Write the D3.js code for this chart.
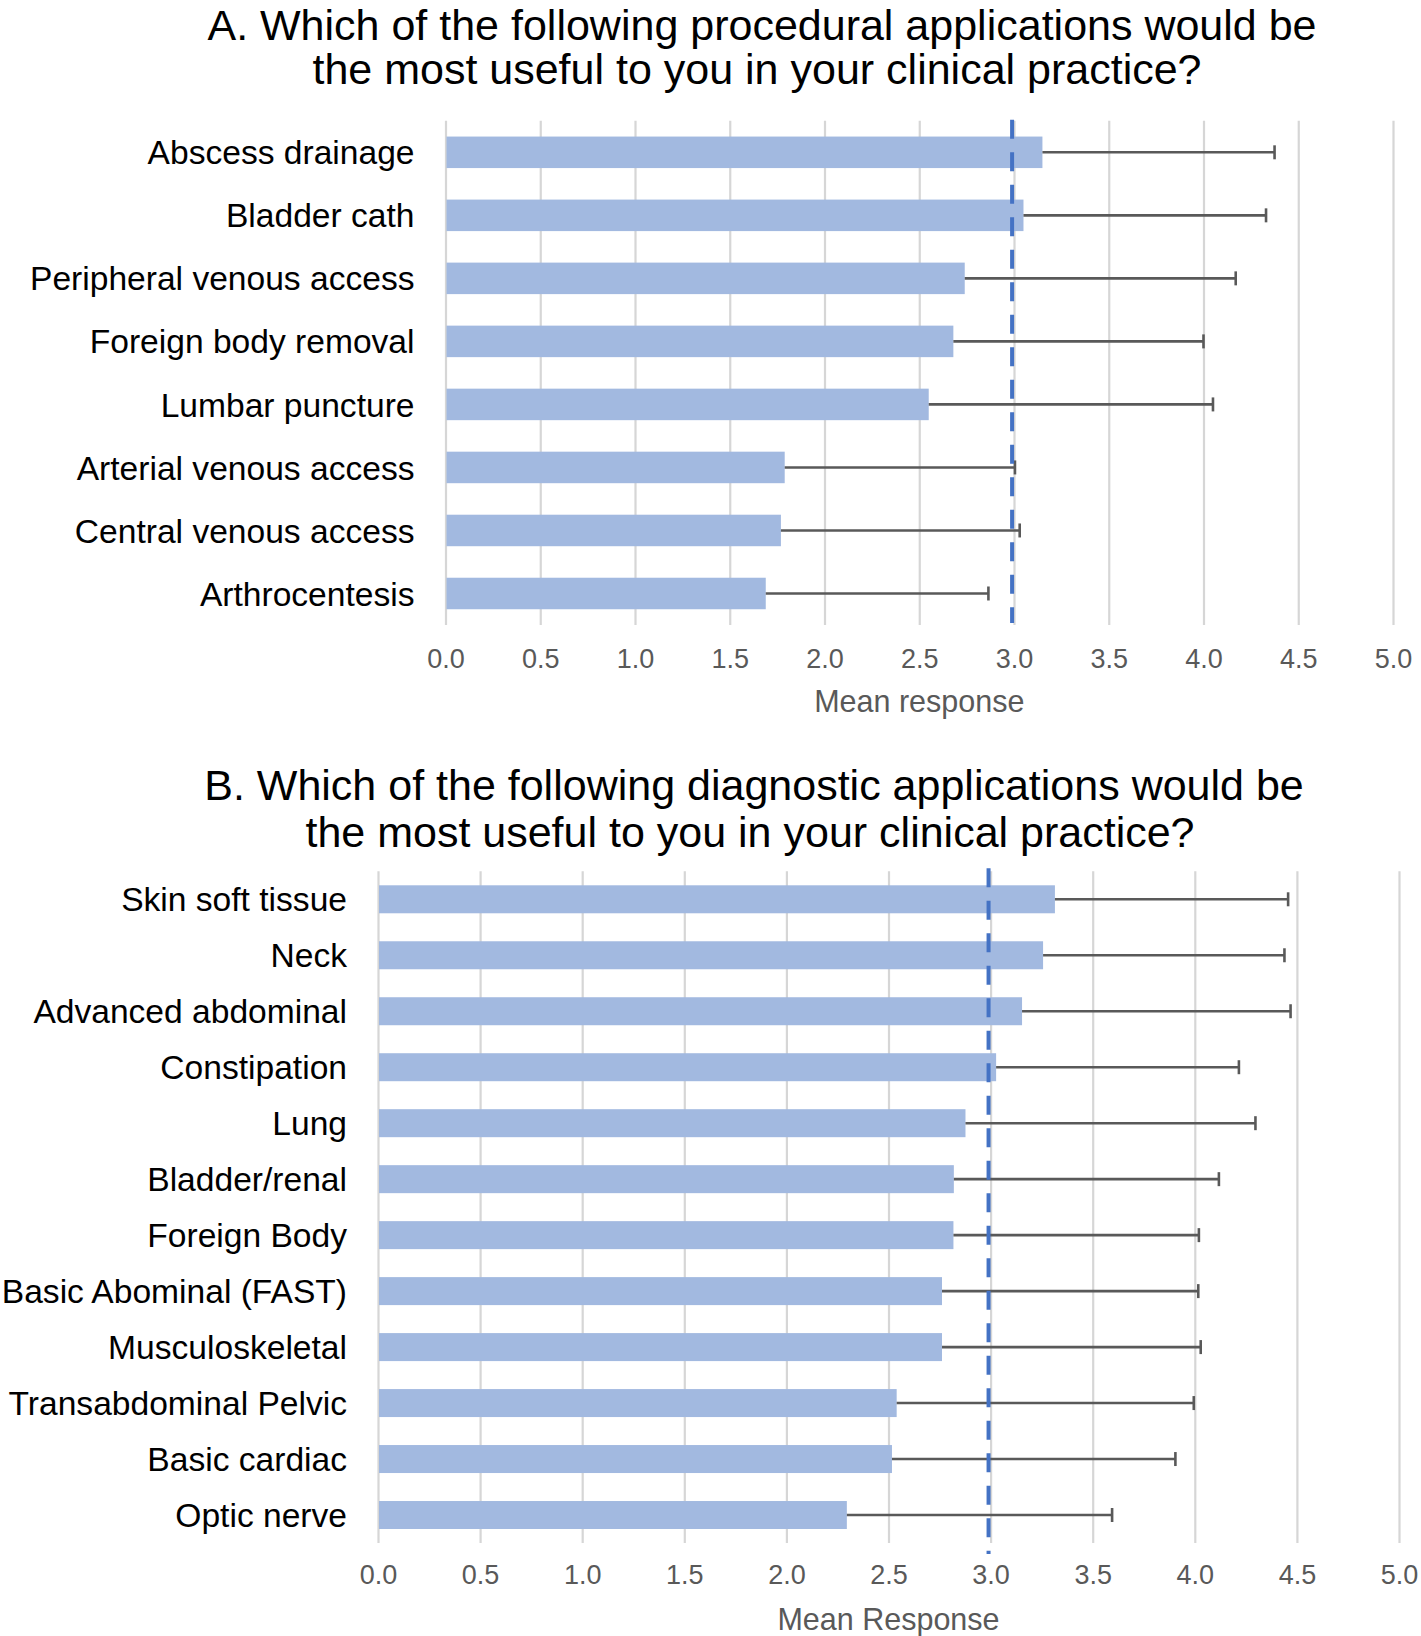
<!DOCTYPE html>
<html>
<head>
<meta charset="utf-8">
<script src="https://cdn.jsdelivr.net/npm/d3@7"></script>
<style>
  body { margin: 0; background: #fff; }
  svg text { font-family: "Liberation Sans", Arial, sans-serif; }
</style>
</head>
<body>
<div id="chart"></div>
<script>
// panel A - procedural applications
const procCategories = ['Abscess drainage', 'Bladder cath', 'Peripheral venous access', 'Foreign body removal',
  'Lumbar puncture', 'Arterial venous access', 'Central venous access', 'Arthrocentesis'];
const procMeans = [3.15, 3.05, 2.74, 2.68, 2.55, 1.79, 1.77, 1.69];
const procSD = [1.225, 1.28, 1.43, 1.32, 1.50, 1.215, 1.26, 1.175];

// panel B - diagnostic applications
const diagCategories = ['Skin soft tissue', 'Neck', 'Advanced abdominal', 'Constipation', 'Lung', 'Bladder/renal',
  'Foreign Body', 'Basic Abominal (FAST)', 'Musculoskeletal', 'Transabdominal Pelvic', 'Basic cardiac', 'Optic nerve'];
const diagMeans = [3.315, 3.257, 3.154, 3.027, 2.877, 2.82, 2.818, 2.762, 2.762, 2.54, 2.517, 2.296];
const diagSD = [1.142, 1.182, 1.315, 1.189, 1.42, 1.298, 1.202, 1.255, 1.267, 1.455, 1.388, 1.299];

const xTicks = [0, 0.5, 1, 1.5, 2, 2.5, 3, 3.5, 4, 4.5, 5];
const refValue = 2.99;

const W = 1421, H = 1636;

const svg = d3.select('#chart')
  .append('svg')
    .attr('width', W)
    .attr('height', H);

function drawPanel(cfg) {
  const g = svg.append('g');

  const x = d3.scaleLinear().domain([0, 5]).range([cfg.left, cfg.right]);
  const y = d3.scaleBand().domain(cfg.categories).range([cfg.top, cfg.bottom]).paddingInner(0.5).paddingOuter(0.25);

  // title, two centred lines
  g.selectAll('text.title')
    .data(cfg.title)
    .enter()
    .append('text')
      .attr('class', 'title')
      .attr('x', (d, i) => cfg.titleX[i])
      .attr('y', (d, i) => cfg.titleY[i])
      .attr('text-anchor', 'middle')
      .style('font-size', '43px')
      .style('fill', '#000')
      .text(d => d);

  // vertical gridlines
  const grid = d3.axisBottom(x)
    .tickValues(xTicks)
    .tickSize(-(cfg.bottom - cfg.top))
    .tickFormat('');
  g.append('g')
    .attr('transform', 'translate(0,' + cfg.bottom + ')')
    .call(grid)
    .call(s => s.select('.domain').remove())
    .call(s => s.selectAll('line').attr('stroke', '#d6d6d6').attr('stroke-width', 2.2));

  // tick labels
  const xAxis = d3.axisBottom(x)
    .tickValues(xTicks)
    .tickSize(0)
    .tickPadding(0)
    .tickFormat(d3.format('.1f'));
  g.append('g')
    .attr('transform', 'translate(0,' + (cfg.tickY) + ')')
    .call(xAxis)
    .call(s => s.select('.domain').remove())
    .call(s => s.selectAll('text')
      .attr('dy', null)
      .attr('y', 0)
      .style('font-size', '27px')
      .style('font-family', '"Liberation Sans", Arial, sans-serif')
      .style('fill', '#595959'));

  // axis title
  g.append('text')
    .attr('x', (cfg.left + cfg.right) / 2)
    .attr('y', cfg.axisTitleY)
    .attr('text-anchor', 'middle')
    .style('font-size', '30.5px')
    .style('fill', '#595959')
    .text(cfg.axisTitle);

  // category labels
  g.selectAll('text.cat')
    .data(cfg.categories)
    .enter()
    .append('text')
      .attr('class', 'cat')
      .attr('x', cfg.left - 31)
      .attr('y', d => y(d) + y.bandwidth() / 2)
      .attr('dy', '0.36em')
      .attr('text-anchor', 'end')
      .style('font-size', '33.6px')
      .style('fill', '#000')
      .text(d => d);

  const rows = cfg.categories.map((c, i) => ({ c: c, m: cfg.means[i], sd: cfg.sd[i] }));

  // bars
  g.selectAll('rect.bar')
    .data(rows)
    .enter()
    .append('rect')
      .attr('class', 'bar')
      .attr('x', x(0) + 1)
      .attr('y', d => y(d.c))
      .attr('width', d => x(d.m) - x(0) - 1)
      .attr('height', y.bandwidth())
      .style('fill', '#a2b9e0');

  // error bars (plus only)
  g.selectAll('line.err')
    .data(rows)
    .enter()
    .append('line')
      .attr('class', 'err')
      .attr('x1', d => x(d.m))
      .attr('x2', d => x(d.m + d.sd))
      .attr('y1', d => y(d.c) + y.bandwidth() / 2)
      .attr('y2', d => y(d.c) + y.bandwidth() / 2)
      .attr('stroke', '#595959')
      .attr('stroke-width', 2.6);

  g.selectAll('line.cap')
    .data(rows)
    .enter()
    .append('line')
      .attr('class', 'cap')
      .attr('x1', d => x(d.m + d.sd))
      .attr('x2', d => x(d.m + d.sd))
      .attr('y1', d => y(d.c) + y.bandwidth() / 2 - 7)
      .attr('y2', d => y(d.c) + y.bandwidth() / 2 + 7)
      .attr('stroke', '#595959')
      .attr('stroke-width', 2.6);

  // reference line
  g.append('line')
    .attr('x1', x(refValue))
    .attr('x2', x(refValue))
    .attr('y1', cfg.top + cfg.refTop)
    .attr('y2', cfg.bottom + cfg.refBottom)
    .attr('stroke', '#4472c4')
    .attr('stroke-width', 4)
    .attr('stroke-dasharray', '19,13.5');
}

drawPanel({
  title: ['A. Which of the following procedural applications would be',
    'the most useful to you in your clinical practice?'],
  titleX: [762, 757], titleY: [39.5, 83.5],
  categories: procCategories, means: procMeans, sd: procSD,
  left: 445.5, right: 1393, top: 120.8, bottom: 625,
  tickY: 668, axisTitleY: 712, axisTitle: 'Mean response',
  refTop: -1, refBottom: -2
});

drawPanel({
  title: ['B. Which of the following diagnostic applications would be',
    'the most useful to you in your clinical practice?'],
  titleX: [754, 750], titleY: [800, 847],
  categories: diagCategories, means: diagMeans, sd: diagSD,
  left: 378, right: 1399, top: 871.3, bottom: 1543,
  tickY: 1584, axisTitleY: 1630, axisTitle: 'Mean Response',
  refTop: -3, refBottom: 11
});
</script>
</body>
</html>
